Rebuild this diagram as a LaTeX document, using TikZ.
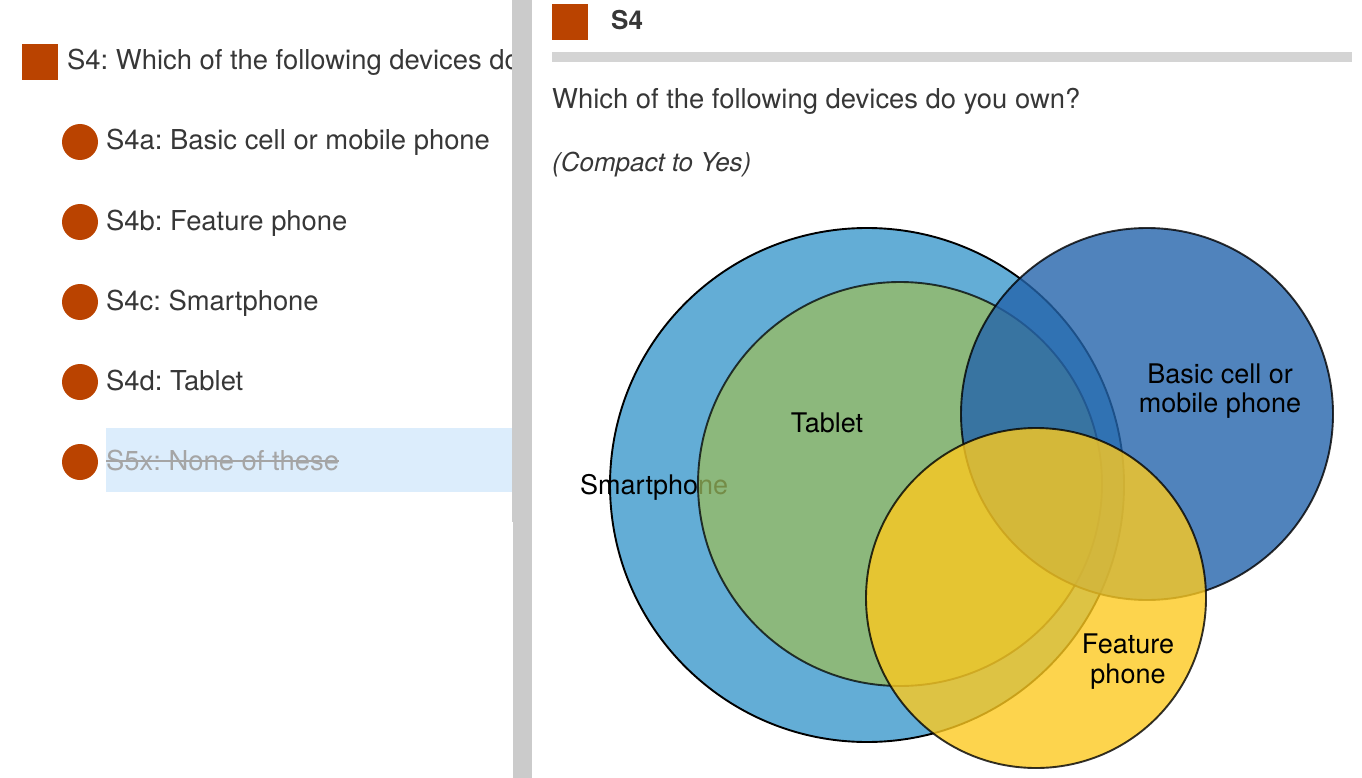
\documentclass[tikz,border=0pt]{standalone}
\usepackage{fontspec}
\setmainfont{TeX Gyre Heros}
\usetikzlibrary{calc}
\definecolor{rust}{RGB}{186,67,0}
\definecolor{txt}{RGB}{55,55,55}
\definecolor{barg}{RGB}{203,203,203}
\definecolor{ruleg}{RGB}{212,212,212}
\definecolor{hl}{RGB}{220,237,252}
\definecolor{strikeg}{RGB}{165,165,165}
\definecolor{smartc}{RGB}{99,173,214}
\definecolor{tabc}{RGB}{155,188,95}
\definecolor{basicc}{RGB}{36,100,171}
\definecolor{featc}{RGB}{252,201,32}
\tikzset{
  lbl/.style={inner sep=0pt, anchor=base west, text=txt, font=\fontsize{27.4}{30}\selectfont},
  vlbl/.style={inner sep=0pt, anchor=base, text=black, align=center, font=\fontsize{27}{30}\selectfont},
  bullet/.style={circle, fill=rust, minimum size=36pt, inner sep=0pt},
  sqmark/.style={rectangle, fill=rust, minimum size=36pt, inner sep=0pt},
  venn/.style={draw=black, line width=1.9pt},
}
\frenchspacing
\begin{document}
\frenchspacing
\begin{tikzpicture}[x=1pt,y=-1pt]
\useasboundingbox (0,0) rectangle (1362,778);
% left panel
\fill[hl] (106,428) rectangle (512,492);
\begin{scope}
\clip (0,0) rectangle (512,778);
\node[sqmark] (sq1) at (40,62) {};
\node[lbl] (title1) at (67,70) {S4: Which of the following devices do};
\end{scope}
\node[bullet] (b1) at (80,142) {};
\node[bullet] (b2) at (80,222) {};
\node[bullet] (b3) at (80,302) {};
\node[bullet] (b4) at (80,382) {};
\node[bullet] (b5) at (80,462) {};
\node[lbl] (i1) at (106,150) {S4a: Basic cell or mobile phone};
\node[lbl] (i2) at (106,230) {S4b: Feature phone};
\node[lbl] (i3) at (106,310) {S4c: Smartphone};
\node[lbl] (i4) at (106,390) {S4d: Tablet};
\node[lbl, text=strikeg] (i5) at (106,470) {S5x: None of these};
\draw[strikeg, line width=1.5pt] ($(i5.base west)+(0,-9)$) -- ($(i5.base east)+(0,-9)$);
% divider
\fill[barg] (512,0) rectangle (532,522);
\fill[barg] (513,522) rectangle (532,778);
% right panel header
\node[sqmark] (sq2) at (570,22) {};
\node[inner sep=0pt, anchor=base west, text=txt, font=\fontsize{26}{28}\selectfont\bfseries] (s4) at (611,30) {S4};
\fill[ruleg] (552,52) rectangle (1352,62);
\node[lbl] (q) at (552,109) {Which of the following devices do you own?};
\node[lbl, font=\fontsize{26}{30}\selectfont\itshape] (note) at (552,172) {(Compact to Yes)};
% venn
\draw[venn, fill=smartc] (867,485) circle[radius=257pt];
\node[inner sep=0pt, anchor=base west, text=black, font=\fontsize{27}{30}\selectfont] (lsmart) at (580,494) {Smartphone};
\draw[venn, fill=tabc, opacity=0.75] (900,484) circle[radius=202pt];
\draw[venn, fill=basicc, opacity=0.8] (1147,414) circle[radius=186pt];
\draw[venn, fill=featc, opacity=0.8] (1036,598) circle[radius=170pt];
\node[vlbl] (ltab) at (827,432) {Tablet};
\node[vlbl] (lbas1) at (1220,383) {Basic cell or};
\node[vlbl] (lbas2) at (1220,412) {mobile phone};
\node[vlbl] (lfea1) at (1128,653) {Feature};
\node[vlbl] (lfea2) at (1128,683) {phone};
\end{tikzpicture}
\end{document}
